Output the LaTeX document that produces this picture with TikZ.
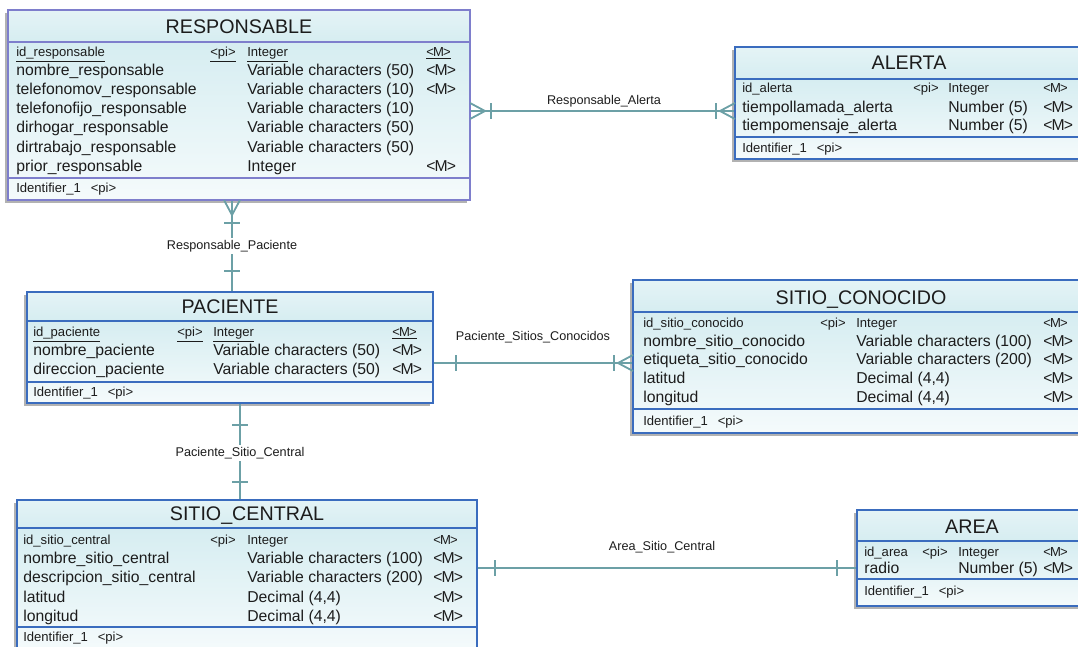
\documentclass[tikz,border=0pt]{standalone}
\usepackage{fontspec}
\setmainfont{Liberation Sans}
\usetikzlibrary{fit}
\definecolor{entcyan}{RGB}{214,237,241}
\definecolor{respline}{RGB}{126,126,204}
\definecolor{entline}{RGB}{58,108,190}
\definecolor{linkcol}{RGB}{108,160,166}
\definecolor{txt}{RGB}{28,28,28}
\newcommand{\pk}{\textless pi\textgreater}
\newcommand{\mnd}{\textless\kern-0.6pt M\kern-0.6pt\textgreater}
\tikzset{
  entshadow/.style={fill=black!30},
  bandfill/.style={top color=white!35!entcyan,bottom color=entcyan},
  bodyfill/.style={top color=entcyan,bottom color=white!75!entcyan},
  entbox/.style={draw=entline,line width=2pt,inner sep=0pt},
  respbox/.style={entbox,draw=respline},
  sepline/.style={draw=entline,line width=2pt},
  respsep/.style={sepline,draw=respline},
  etitle/.style={font=\fontsize{14}{16}\selectfont,text=txt,inner sep=0pt,text height=10pt,text depth=0pt},
  attr/.style={anchor=west,inner sep=0pt,text=txt,font=\fontsize{11.2}{13}\selectfont,text height=8pt,text depth=0pt},
  keyattr/.style={attr,font=\fontsize{9.3}{10}\selectfont,text height=6.6pt},
  link/.style={draw=linkcol,line width=2pt},
  linklabel/.style={font=\fontsize{9}{10}\selectfont,text=txt,inner sep=1.5pt},
  crow/.pic={\draw[link,line width=1.3pt] (0,-8) -- (15,0) -- (0,8);},
  onebar/.pic={\draw[link,line width=1.3pt] (0,-8) -- (0,8);},
}
\begin{document}
\begin{tikzpicture}[x=0.025cm,y=-0.025cm]
\useasboundingbox (0,0) rectangle (1078,646);
\clip (0,0) rectangle (1078,646);

% RESPONSABLE
\fill[entshadow] (5,13) rectangle (467,203);
\fill[bandfill] (8,10) rectangle (470,42);
\fill[bodyfill] (8,42) rectangle (470,200);
\node[respbox,fit={(8,10) (470,200)}] (resp) {};
\draw[respsep] (8,42) -- (470,42) (8,178) -- (470,178);
\node[etitle] (resp-title) at (239,26) {RESPONSABLE};
\node[keyattr] (resp-n1) at (16,52) {\underline{id\_responsable}};
\node[keyattr] (resp-k1) at (210,52) {\underline{\pk}};
\node[keyattr] (resp-d1) at (247,52) {\underline{Integer}};
\node[keyattr] (resp-m1) at (426,52) {\underline{\mnd}};
\node[attr] (resp-n2) at (16,70) {nombre\_responsable};
\node[attr] (resp-d2) at (247,70) {Variable characters (50)};
\node[attr] (resp-m2) at (426,70) {\mnd};
\node[attr] (resp-n3) at (16,89) {telefonomov\_responsable};
\node[attr] (resp-d3) at (247,89) {Variable characters (10)};
\node[attr] (resp-m3) at (426,89) {\mnd};
\node[attr] (resp-n4) at (16,108) {telefonofijo\_responsable};
\node[attr] (resp-d4) at (247,108) {Variable characters (10)};
\node[attr] (resp-n5) at (16,127) {dirhogar\_responsable};
\node[attr] (resp-d5) at (247,127) {Variable characters (50)};
\node[attr] (resp-n6) at (16,147) {dirtrabajo\_responsable};
\node[attr] (resp-d6) at (247,147) {Variable characters (50)};
\node[attr] (resp-n7) at (16,166) {prior\_responsable};
\node[attr] (resp-d7) at (247,166) {Integer};
\node[attr] (resp-m7) at (426,166) {\mnd};
\node[keyattr] (resp-id) at (16,188) {Identifier\_1\hspace{7pt}\pk};

% ALERTA
\fill[entshadow] (732,50) rectangle (1080,162);
\fill[bandfill] (735,47) rectangle (1083,79);
\fill[bodyfill] (735,79) rectangle (1083,159);
\node[entbox,fit={(735,47) (1083,159)}] (alerta) {};
\draw[sepline] (735,79) -- (1083,79) (735,137) -- (1083,137);
\node[etitle] (alerta-title) at (909,62) {ALERTA};
\node[keyattr] (alerta-n1) at (742,88) {id\_alerta};
\node[keyattr] (alerta-k1) at (913,88) {\pk};
\node[keyattr] (alerta-d1) at (948,88) {Integer};
\node[keyattr] (alerta-m1) at (1043,88) {\mnd};
\node[attr] (alerta-n2) at (742,107) {tiempollamada\_alerta};
\node[attr] (alerta-d2) at (948,107) {Number (5)};
\node[attr] (alerta-m2) at (1043,107) {\mnd};
\node[attr] (alerta-n3) at (742,125) {tiempomensaje\_alerta};
\node[attr] (alerta-d3) at (948,125) {Number (5)};
\node[attr] (alerta-m3) at (1043,125) {\mnd};
\node[keyattr] (alerta-id) at (742,148) {Identifier\_1\hspace{7pt}\pk};

% PACIENTE
\fill[entshadow] (24,295) rectangle (430,406);
\fill[bandfill] (27,292) rectangle (433,321);
\fill[bodyfill] (27,321) rectangle (433,403);
\node[entbox,fit={(27,292) (433,403)}] (pac) {};
\draw[sepline] (27,321) -- (433,321) (27,382) -- (433,382);
\node[etitle] (pac-title) at (230,306) {PACIENTE};
\node[keyattr] (pac-n1) at (33,332) {\underline{id\_paciente}};
\node[keyattr] (pac-k1) at (177,332) {\underline{\pk}};
\node[keyattr] (pac-d1) at (213,332) {\underline{Integer}};
\node[keyattr] (pac-m1) at (392,332) {\underline{\mnd}};
\node[attr] (pac-n2) at (33,350) {nombre\_paciente};
\node[attr] (pac-d2) at (213,350) {Variable characters (50)};
\node[attr] (pac-m2) at (392,350) {\mnd};
\node[attr] (pac-n3) at (33,369) {direccion\_paciente};
\node[attr] (pac-d3) at (213,369) {Variable characters (50)};
\node[attr] (pac-m3) at (392,369) {\mnd};
\node[keyattr] (pac-id) at (33,392) {Identifier\_1\hspace{7pt}\pk};

% SITIO_CONOCIDO
\fill[entshadow] (630,283) rectangle (1086,436);
\fill[bandfill] (633,280) rectangle (1089,312);
\fill[bodyfill] (633,312) rectangle (1089,433);
\node[entbox,fit={(633,280) (1089,433)}] (conoc) {};
\draw[sepline] (633,312) -- (1089,312) (633,409) -- (1089,409);
\node[etitle] (conoc-title) at (861,297) {SITIO\_CONOCIDO};
\node[keyattr] (conoc-n1) at (643,323) {id\_sitio\_conocido};
\node[keyattr] (conoc-k1) at (820,323) {\pk};
\node[keyattr] (conoc-d1) at (856,323) {Integer};
\node[keyattr] (conoc-m1) at (1043,323) {\mnd};
\node[attr] (conoc-n2) at (643,341) {nombre\_sitio\_conocido};
\node[attr] (conoc-d2) at (856,341) {Variable characters (100)};
\node[attr] (conoc-m2) at (1043,341) {\mnd};
\node[attr] (conoc-n3) at (643,359) {etiqueta\_sitio\_conocido};
\node[attr] (conoc-d3) at (856,359) {Variable characters (200)};
\node[attr] (conoc-m3) at (1043,359) {\mnd};
\node[attr] (conoc-n4) at (643,378) {latitud};
\node[attr] (conoc-d4) at (856,378) {Decimal (4,4)};
\node[attr] (conoc-m4) at (1043,378) {\mnd};
\node[attr] (conoc-n5) at (643,397) {longitud};
\node[attr] (conoc-d5) at (856,397) {Decimal (4,4)};
\node[attr] (conoc-m5) at (1043,397) {\mnd};
\node[keyattr] (conoc-id) at (643,421) {Identifier\_1\hspace{7pt}\pk};

% SITIO_CENTRAL
\fill[entshadow] (14,503) rectangle (474,655);
\fill[bandfill] (17,500) rectangle (477,528);
\fill[bodyfill] (17,528) rectangle (477,652);
\node[entbox,fit={(17,500) (477,652)}] (central) {};
\draw[sepline] (17,528) -- (477,528) (17,627) -- (477,627);
\node[etitle] (central-title) at (247,513) {SITIO\_CENTRAL};
\node[keyattr] (central-n1) at (23,540) {id\_sitio\_central};
\node[keyattr] (central-k1) at (210,540) {\pk};
\node[keyattr] (central-d1) at (247,540) {Integer};
\node[keyattr] (central-m1) at (433,540) {\mnd};
\node[attr] (central-n2) at (23,558) {nombre\_sitio\_central};
\node[attr] (central-d2) at (247,558) {Variable characters (100)};
\node[attr] (central-m2) at (433,558) {\mnd};
\node[attr] (central-n3) at (23,577) {descripcion\_sitio\_central};
\node[attr] (central-d3) at (247,577) {Variable characters (200)};
\node[attr] (central-m3) at (433,577) {\mnd};
\node[attr] (central-n4) at (23,597) {latitud};
\node[attr] (central-d4) at (247,597) {Decimal (4,4)};
\node[attr] (central-m4) at (433,597) {\mnd};
\node[attr] (central-n5) at (23,616) {longitud};
\node[attr] (central-d5) at (247,616) {Decimal (4,4)};
\node[attr] (central-m5) at (433,616) {\mnd};
\node[keyattr] (central-id) at (23,637) {Identifier\_1\hspace{7pt}\pk};

% AREA
\fill[entshadow] (854,513) rectangle (1084,609);
\fill[bandfill] (857,510) rectangle (1087,541);
\fill[bodyfill] (857,541) rectangle (1087,606);
\node[entbox,fit={(857,510) (1087,606)}] (area) {};
\draw[sepline] (857,541) -- (1087,541) (857,579) -- (1087,579);
\node[etitle] (area-title) at (972,526) {AREA};
\node[keyattr] (area-n1) at (864,552) {id\_area};
\node[keyattr] (area-k1) at (922,552) {\pk};
\node[keyattr] (area-d1) at (958,552) {Integer};
\node[keyattr] (area-m1) at (1043,552) {\mnd};
\node[attr] (area-n2) at (864,568) {radio};
\node[attr] (area-d2) at (958,568) {Number (5)};
\node[attr] (area-m2) at (1043,568) {\mnd};
\node[keyattr] (area-id) at (864,591) {Identifier\_1\hspace{7pt}\pk};

% Responsable_Alerta
\coordinate (ra) at (604,111);
\draw[link] (resp.east |- ra) -- (alerta.west |- ra);
\pic at (470,111) {crow};
\pic at (491,111) {onebar};
\pic at (716,111) {onebar};
\pic[rotate=180] at (735,111) {crow};
\node[linklabel] (ra-label) at (604,101) {Responsable\_Alerta};

% Responsable_Paciente
\coordinate (rp) at (232,246);
\draw[link] (resp.south -| rp) -- (pac.north -| rp);
\pic[rotate=-90] at (232,200) {crow};
\pic[rotate=90] at (232,223) {onebar};
\pic[rotate=90] at (232,271) {onebar};
\node[linklabel,fill=white] (rp-label) at (rp) {Responsable\_Paciente};

% Paciente_Sitios_Conocidos
\coordinate (psc) at (533,363);
\draw[link] (pac.east |- psc) -- (conoc.west |- psc);
\pic at (456,363) {onebar};
\pic at (614,363) {onebar};
\pic[rotate=180] at (633,363) {crow};
\node[linklabel] (psc-label) at (533,337) {Paciente\_Sitios\_Conocidos};

% Paciente_Sitio_Central
\coordinate (pcen) at (240,453);
\draw[link] (pac.south -| pcen) -- (central.north -| pcen);
\pic[rotate=90] at (240,425) {onebar};
\pic[rotate=90] at (240,482) {onebar};
\node[linklabel,fill=white] (pcen-label) at (pcen) {Paciente\_Sitio\_Central};

% Area_Sitio_Central
\coordinate (asc) at (662,568);
\draw[link] (central.east |- asc) -- (area.west |- asc);
\pic at (495,568) {onebar};
\pic at (837,568) {onebar};
\node[linklabel] (asc-label) at (662,547) {Area\_Sitio\_Central};
\end{tikzpicture}
\end{document}
